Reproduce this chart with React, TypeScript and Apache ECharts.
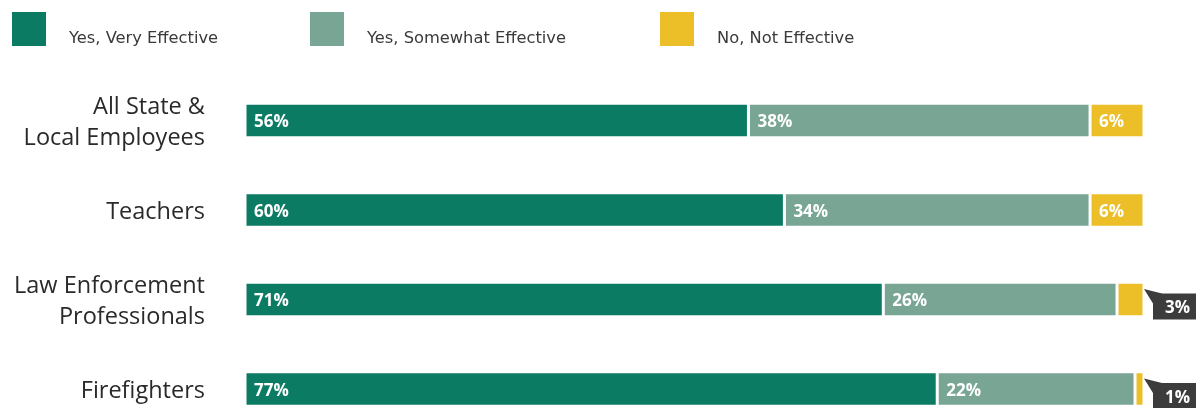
import React, { useEffect, useRef } from "react";
import * as echarts from "echarts";

const categories = ["All State &\nLocal Employees", "Teachers", "Law Enforcement\nProfessionals", "Firefighters"];
const seriesNames = ["Yes, Very Effective", "Yes, Somewhat Effective", "No, Not Effective"];
const veryEffective = [56, 60, 71, 77];
const somewhatEffective = [38, 34, 26, 22];
const notEffective = [6, 6, 3, 1];

const COLORS = ["#0b7b63", "#78a594", "#ecbe27"];
const CALLOUT = "#3c3c3c";
const SMALL = 5;

export default function App() {
  const ref = useRef<HTMLDivElement>(null);
  useEffect(() => {
    if (!ref.current) return;
    const chart = echarts.init(ref.current, null, { renderer: "svg" });
    const barLabel = {
      show: true,
      position: "insideLeft",
      distance: 9,
      color: "#fff",
      fontFamily: "Open Sans",
      fontWeight: "bold",
      fontSize: 17,
      formatter: "{c}%",
    };
    const mk = (vals: number[], i: number) => ({
      name: seriesNames[i],
      type: "bar",
      stack: "all",
      barWidth: 34.5,
      clip: false,
      itemStyle: { color: COLORS[i], borderColor: "#ffffff", borderWidth: 1.5 },
      label: barLabel,
      data: vals.map((v) =>
        i === 2 && v < SMALL
          ? {
              value: v,
              label: {
                show: true,
                position: "right",
                distance: 9,
                offset: [0, 7],
                color: "#fff",
                fontFamily: "Open Sans",
                fontWeight: "bold",
                fontSize: 17,
                lineHeight: 18,
                backgroundColor: CALLOUT,
                padding: [4, 12, 4, 12],
                formatter: "{c}%",
              },
            }
          : v
      ),
    });
    const legendBase = {
      icon: "rect",
      itemWidth: 36,
      itemHeight: 36,
      top: 10,
      padding: 0,
      selectedMode: false,
      formatter: (n: string) => "{t|" + n + "}",
      textStyle: {
        rich: {
          t: {
            fontFamily: "DejaVu Sans",
            fontSize: 16.3,
            color: "#3a3a3a",
            padding: [17, 0, 0, 17],
          },
        },
      },
    };
    chart.setOption({
      animation: false,
      legend: [
        { ...legendBase, left: 10, data: [seriesNames[0]] },
        { ...legendBase, left: 308, data: [seriesNames[1]] },
        { ...legendBase, left: 658, data: [seriesNames[2]] },
      ],
      grid: { left: 245, right: 52, top: 120.5, bottom: 19, containLabel: false },
      xAxis: { type: "value", min: 0, max: 100, show: false },
      yAxis: {
        type: "category",
        inverse: true,
        boundaryGap: false,
        data: categories,
        axisLine: { show: false },
        axisTick: { show: false },
        splitLine: { show: false },
        axisLabel: {
          margin: 40,
          fontFamily: "Open Sans",
          fontSize: 23.5,
          lineHeight: 31,
          color: "#2a2a2a",
          align: "right",
        },
      },
      series: [mk(veryEffective, 0), mk(somewhatEffective, 1), mk(notEffective, 2)],
    });
    const graphics: any[] = [];
    notEffective.forEach((v, idx) => {
      if (v >= SMALL) return;
      const p = chart.convertToPixel({ gridIndex: 0 }, [100, idx]) as number[];
      const x = p[0];
      const y = p[1];
      graphics.push({
        type: "polygon",
        shape: {
          points: [
            [x, y - 10.5],
            [x + 18, y - 6],
            [x + 9, y + 4],
          ],
        },
        style: { fill: CALLOUT },
        z: 1,
      });
    });
    chart.setOption({ graphic: graphics });
    return () => chart.dispose();
  }, []);
  return <div ref={ref} style={{ position: "fixed", left: 0, top: 0, width: 1196, height: 408 }} />;
}
